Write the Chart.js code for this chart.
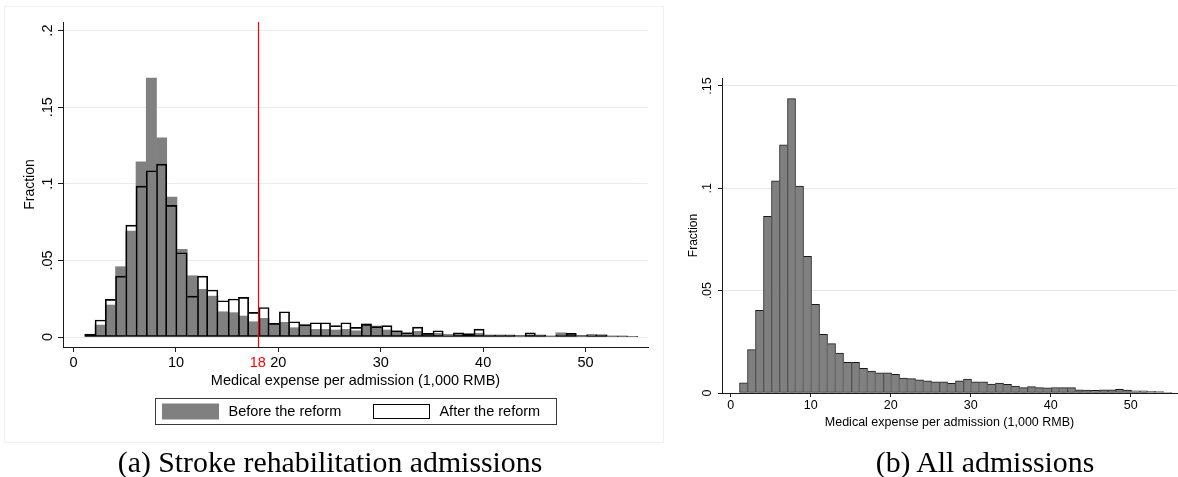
<!DOCTYPE html>
<html>
<head>
<meta charset="utf-8">
<script src="https://cdn.jsdelivr.net/npm/chart.js@4.4.1/dist/chart.umd.min.js"></script>
<style>
  html, body { margin: 0; padding: 0; background: #fff; }
  body { width: 1178px; height: 477px; position: relative; overflow: hidden; }
  #panelA { position: absolute; left: 4px; top: 6px; width: 660px; height: 437px; border: 1px solid #f1f1f1; box-sizing: border-box; }
  #cA { position: absolute; left: 0; top: 0; }
  #cB { position: absolute; left: 664px; top: 0; }
  .cap { position: absolute; top: 444px; width: 600px; height: 36px; line-height: 36px;
         font-family: "Liberation Serif", "Times New Roman", serif; font-size: 29.8px; color: #000;
         text-align: center; white-space: nowrap; }
</style>
</head>
<body>
<div id="panelA"></div>
<canvas id="cA" width="664" height="445"></canvas>
<canvas id="cB" width="514" height="445"></canvas>
<div class="cap" style="left:30px">(a) Stroke rehabilitation admissions</div>
<div class="cap" style="left:685px">(b) All admissions</div>

<script>
// Histogram bins (1,000 RMB), one unit wide; values are bin midpoints
const binMid = [1.6, 2.6, 3.6, 4.6, 5.6, 6.6, 7.6, 8.6, 9.6, 10.6,
                11.6, 12.6, 13.6, 14.6, 15.6, 16.6, 17.6, 18.6, 19.6, 20.6,
                21.6, 22.6, 23.6, 24.6, 25.6, 26.6, 27.6, 28.6, 29.6, 30.6,
                31.6, 32.6, 33.6, 34.6, 35.6, 36.6, 37.6, 38.6, 39.6, 40.6,
                41.6, 42.6, 43.6, 44.6, 45.6, 46.6, 47.6, 48.6, 49.6, 50.6,
                51.6, 52.6, 53.6, 54.6];

// Stroke rehabilitation admissions, share per bin
const beforeReform = [0.0015, 0.0078, 0.0209, 0.0459, 0.0691, 0.1143, 0.1690, 0.1300, 0.0913, 0.0572,
                      0.0400, 0.0311, 0.0267, 0.0165, 0.0159, 0.0137, 0.0100, 0.0122, 0.0085, 0.0096,
                      0.0061, 0.0083, 0.0050, 0.0050, 0.0046, 0.0050, 0.0041, 0.0087, 0.0072, 0.0046,
                      0.0040, 0.0028, 0.0037, 0.0024, 0.0024, 0.0015, 0.0024, 0.0024, 0.0024, 0.0013,
                      0.0013, 0.0013, 0.0009, 0.0015, 0.0013, 0.0007, 0.0028, 0.0015, 0.0009, 0.0015,
                      0.0015, 0.0007, 0.0007, 0.0004];
const afterReform  = [0.0020, 0.0111, 0.0246, 0.0398, 0.0730, 0.0985, 0.1085, 0.1128, 0.0859, 0.0550,
                      0.0267, 0.0398, 0.0307, 0.0237, 0.0248, 0.0259, 0.0161, 0.0193, 0.0089, 0.0165,
                      0.0100, 0.0080, 0.0093, 0.0093, 0.0074, 0.0093, 0.0063, 0.0083, 0.0068, 0.0074,
                      0.0041, 0.0028, 0.0065, 0.0024, 0.0041, 0.0015, 0.0028, 0.0020, 0.0052, 0.0013,
                      0.0013, 0.0013, 0.0009, 0.0028, 0.0013, 0.0007, 0.0013, 0.0024, 0.0009, 0.0015,
                      0.0013, 0.0007, 0.0007, 0.0004];

// All admissions, share per bin
const allAdmissions = [0.0050, 0.0212, 0.0404, 0.0863, 0.1036, 0.1213, 0.1438, 0.1011, 0.0668, 0.0433,
                       0.0287, 0.0241, 0.0195, 0.0150, 0.0150, 0.0120, 0.0107, 0.0099, 0.0099, 0.0091,
                       0.0073, 0.0070, 0.0064, 0.0059, 0.0054, 0.0055, 0.0047, 0.0059, 0.0068, 0.0055,
                       0.0054, 0.0044, 0.0049, 0.0042, 0.0034, 0.0026, 0.0031, 0.0026, 0.0025, 0.0027,
                       0.0026, 0.0026, 0.0015, 0.0014, 0.0013, 0.0016, 0.0016, 0.0018, 0.0014, 0.0011,
                       0.0011, 0.0008, 0.0007, 0.0003];

const xTicks = [0, 10, 20, 30, 40, 50];
const cutoff = 18;
const yTicksA = [0, 0.05, 0.1, 0.15, 0.2];
const yTicksB = [0, 0.05, 0.1, 0.15];
const seriesLabels = ['Before the reform', 'After the reform'];
const xTitle = 'Medical expense per admission (1,000 RMB)';
const yTitle = 'Fraction';

const FONT = '"Liberation Sans", Arial, Helvetica, sans-serif';
Chart.defaults.font.family = FONT;
Chart.defaults.color = '#000';

const AXIS = '#1a1a1a';
const GREY = '#808080';

const pts = vals => vals.map((v, i) => ({ x: binMid[i], y: v }));
const fracLabel = v => v === 0 ? '0' : String(+v.toFixed(2)).replace(/^0/, '');

// Outline each bar so a shared edge is drawn only once, by the taller neighbour
function stepBorder(values, w) {
  return ctx => {
    const i = ctx.dataIndex, v = values[i];
    const prev = i > 0 ? values[i - 1] : -1;
    const next = i < values.length - 1 ? values[i + 1] : -1;
    return { top: w, bottom: w, left: v >= prev ? w : 0, right: v > next ? w : 0 };
  };
}

// Vertical reference line at the reimbursement cutoff
const cutoffLine = {
  id: 'cutoffLine',
  afterDatasetsDraw(chart, args, opts) {
    if (opts.value == null) return;
    const { ctx, chartArea: { top, bottom }, scales: { x } } = chart;
    const px = Math.round(x.getPixelForValue(opts.value)) + 0.5;
    ctx.save();
    ctx.strokeStyle = opts.color || '#ff0000';
    ctx.lineWidth = 1.2;
    ctx.beginPath();
    ctx.moveTo(px, top);
    ctx.lineTo(px, bottom);
    ctx.stroke();
    ctx.restore();
  }
};

// Boxed legend below the x-axis title
const framedLegend = {
  id: 'framedLegend',
  afterDraw(chart, args, o) {
    if (!o.display) return;
    const { ctx, chartArea } = chart;
    const ds = chart.data.datasets;
    ctx.save();
    ctx.font = `${o.fontSize}px ${FONT}`;
    const widths = ds.map(d => ctx.measureText(d.label).width);
    const content = ds.length * (o.boxW + o.gap) + widths.reduce((a, b) => a + b, 0) + (ds.length - 1) * o.itemGap;
    const fw = Math.round(content + o.padL + o.padR);
    const fx = Math.round((chartArea.left + chartArea.right) / 2 - fw / 2);
    ctx.strokeStyle = '#3a3a3a';
    ctx.lineWidth = 1;
    ctx.strokeRect(fx + 0.5, o.top + 0.5, fw, o.height);
    let x = fx + o.padL;
    const cy = o.top + o.height / 2 + 0.5;
    ds.forEach((d, i) => {
      const bx = Math.round(x);
      if (d.legendStroke) {
        ctx.fillStyle = '#fff';
        ctx.fillRect(bx, cy - 7.5, o.boxW, 15);
        ctx.strokeStyle = '#000';
        ctx.strokeRect(bx + 0.5, cy - 7, o.boxW - 1, 14);
      } else {
        ctx.fillStyle = d.backgroundColor;
        ctx.fillRect(bx, cy - 8, o.boxW, 16);
      }
      x += o.boxW + o.gap;
      ctx.fillStyle = '#000';
      ctx.textBaseline = 'middle';
      ctx.textAlign = 'left';
      ctx.fillText(d.label, x, cy);
      x += widths[i] + o.itemGap;
    });
    ctx.restore();
  }
};

// (a) Stroke rehabilitation admissions, before vs after the reform
new Chart(document.getElementById('cA'), {
  type: 'bar',
  data: {
    datasets: [
      { label: seriesLabels[0], data: pts(beforeReform), backgroundColor: GREY, borderWidth: 0, order: 2 },
      { label: seriesLabels[1], data: pts(afterReform), backgroundColor: 'rgba(0,0,0,0)', borderColor: '#000',
        borderWidth: stepBorder(afterReform, 1), borderSkipped: false, order: 1, legendStroke: true }
    ]
  },
  options: {
    responsive: false, animation: false, devicePixelRatio: 1,
    layout: { padding: { left: 0, top: 22, right: 16, bottom: 53 } },
    datasets: { bar: { grouped: false, categoryPercentage: 1, barPercentage: 1 } },
    plugins: {
      legend: { display: false }, tooltip: { enabled: false },
      cutoffLine: { value: cutoff, color: '#ff0000' },
      framedLegend: { display: true, fontSize: 14.5, boxW: 57, gap: 9.5, itemGap: 31.6, padL: 7, padR: 16, top: 398, height: 26 }
    },
    scales: {
      x: {
        type: 'linear', min: -1.03, max: 56.1, offset: false,
        afterBuildTicks: s => { s.ticks = [...xTicks, cutoff].sort((a, b) => a - b).map(v => ({ value: v })); },
        afterFit: s => { s.height = 45; },
        grid: { offset: false, drawOnChartArea: false, drawTicks: true, tickLength: 5,
                tickColor: c => (c.tick && c.tick.value === cutoff) ? 'rgba(0,0,0,0)' : AXIS },
        border: { display: true, color: AXIS, width: 1 },
        ticks: { autoSkip: false, maxRotation: 0, minRotation: 0, padding: 2, font: { size: 14.5 },
                 color: c => (c.tick && c.tick.value === cutoff) ? '#ff0000' : '#000' },
        title: { display: true, text: xTitle, font: { size: 14.5 }, padding: { top: 0, bottom: 2.5 }, color: '#000' }
      },
      y: {
        type: 'linear', min: -0.0065, max: 0.2056,
        afterBuildTicks: s => { s.ticks = yTicksA.map(v => ({ value: v })); },
        afterFit: s => { s.width = 63; },
        grid: { color: '#e6eef0', tickColor: AXIS, tickLength: 5, drawTicks: true },
        border: { display: true, color: AXIS, width: 1 },
        ticks: { minRotation: 90, maxRotation: 90, crossAlign: 'center', padding: 0, font: { size: 14.5 }, callback: fracLabel },
        title: { display: true, text: yTitle, font: { size: 14 }, padding: { top: 21.6, bottom: 0 }, color: '#000' }
      }
    }
  },
  plugins: [cutoffLine, framedLegend]
});

// (b) All admissions
new Chart(document.getElementById('cB'), {
  type: 'bar',
  data: {
    datasets: [
      { label: 'All admissions', data: pts(allAdmissions), backgroundColor: GREY, borderColor: AXIS,
        borderWidth: stepBorder(allAdmissions, 1), borderSkipped: false }
    ]
  },
  options: {
    responsive: false, animation: false, devicePixelRatio: 1,
    layout: { padding: { left: 0, top: 78, right: 1, bottom: 12 } },
    datasets: { bar: { grouped: false, categoryPercentage: 1, barPercentage: 1 } },
    plugins: { legend: { display: false }, tooltip: { enabled: false } },
    scales: {
      x: {
        type: 'linear', min: -1.09, max: 55.79, offset: false,
        afterBuildTicks: s => { s.ticks = xTicks.map(v => ({ value: v })); },
        afterFit: s => { s.height = 40; },
        grid: { offset: false, drawOnChartArea: false, drawTicks: true, tickLength: 4, tickColor: AXIS },
        border: { display: true, color: AXIS, width: 1 },
        ticks: { autoSkip: false, maxRotation: 0, minRotation: 0, padding: 1.5, font: { size: 12.5 } },
        title: { display: true, text: xTitle, font: { size: 12.5 }, padding: { top: 0, bottom: 2.5 }, color: '#000' }
      },
      y: {
        type: 'linear', min: 0, max: 0.1539,
        afterBuildTicks: s => { s.ticks = yTicksB.map(v => ({ value: v })); },
        afterFit: s => { s.width = 58; },
        grid: { color: '#e8e8e8', tickColor: AXIS, tickLength: 4, drawTicks: true },
        border: { display: true, color: AXIS, width: 1 },
        ticks: { minRotation: 90, maxRotation: 90, crossAlign: 'center', padding: 1.3, font: { size: 12.5 }, callback: fracLabel },
        title: { display: true, text: yTitle, font: { size: 12 }, padding: { top: 22, bottom: 0 }, color: '#000' }
      }
    }
  }
});
</script>
</body>
</html>
